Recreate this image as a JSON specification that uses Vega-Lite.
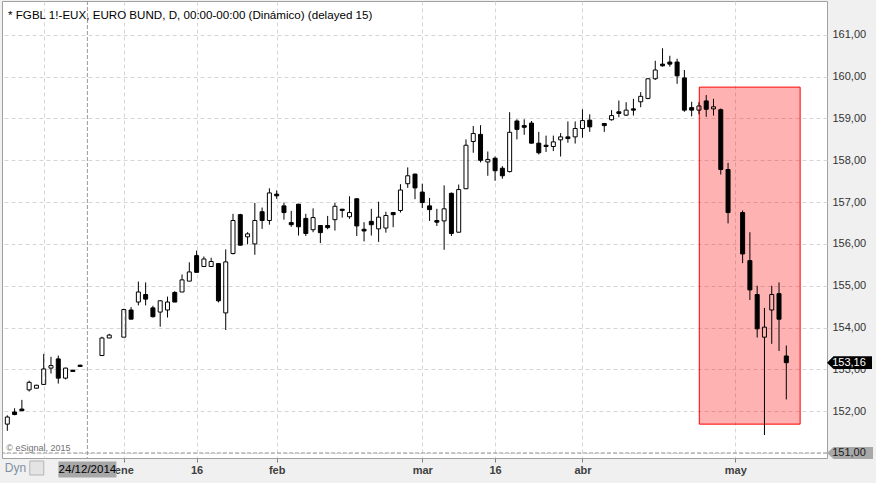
{
  "$schema": "https://vega.github.io/schema/vega-lite/v6.json",
  "width": 825,
  "height": 457,
  "autosize": "none",
  "padding": {"left": 2, "top": 1, "right": 49, "bottom": 25},
  "background": "#f0f0f0",
  "datasets": {
    "candles": [
      {"idx": 0, "open": 151.69, "high": 151.90, "low": 151.53, "close": 151.86},
      {"idx": 1, "open": 151.98, "high": 152.07, "low": 151.90, "close": 151.92},
      {"idx": 2, "open": 152.05, "high": 152.27, "low": 152.01, "close": 152.01},
      {"idx": 3, "open": 152.51, "high": 152.73, "low": 152.47, "close": 152.69},
      {"idx": 4, "open": 152.55, "high": 152.63, "low": 152.54, "close": 152.62},
      {"idx": 5, "open": 152.64, "high": 153.37, "low": 152.63, "close": 153.01},
      {"idx": 6, "open": 153.03, "high": 153.30, "low": 152.90, "close": 153.09},
      {"idx": 7, "open": 153.25, "high": 153.33, "low": 152.66, "close": 152.79},
      {"idx": 8, "open": 152.79, "high": 153.04, "low": 152.76, "close": 153.03},
      {"idx": 9, "open": 152.98, "high": 152.99, "low": 152.94, "close": 152.95},
      {"idx": 10, "open": 153.10, "high": 153.11, "low": 153.06, "close": 153.07},
      {"idx": 13, "open": 153.33, "high": 153.78, "low": 153.33, "close": 153.75},
      {"idx": 14, "open": 153.75, "high": 153.85, "low": 153.75, "close": 153.82},
      {"idx": 16, "open": 153.77, "high": 154.45, "low": 153.77, "close": 154.43},
      {"idx": 17, "open": 154.42, "high": 154.49, "low": 154.20, "close": 154.20},
      {"idx": 18, "open": 154.61, "high": 155.10, "low": 154.53, "close": 154.85},
      {"idx": 19, "open": 154.79, "high": 155.08, "low": 154.53, "close": 154.68},
      {"idx": 20, "open": 154.47, "high": 154.52, "low": 154.24, "close": 154.26},
      {"idx": 21, "open": 154.37, "high": 154.65, "low": 154.02, "close": 154.64},
      {"idx": 22, "open": 154.42, "high": 154.74, "low": 154.24, "close": 154.61},
      {"idx": 23, "open": 154.84, "high": 154.87, "low": 154.61, "close": 154.61},
      {"idx": 24, "open": 154.85, "high": 155.27, "low": 154.85, "close": 155.14},
      {"idx": 25, "open": 155.11, "high": 155.56, "low": 155.11, "close": 155.33},
      {"idx": 26, "open": 155.72, "high": 155.84, "low": 155.32, "close": 155.32},
      {"idx": 27, "open": 155.46, "high": 155.70, "low": 155.46, "close": 155.64},
      {"idx": 28, "open": 155.46, "high": 155.67, "low": 155.46, "close": 155.58},
      {"idx": 29, "open": 155.53, "high": 155.54, "low": 154.60, "close": 154.64},
      {"idx": 30, "open": 154.35, "high": 155.87, "low": 153.94, "close": 155.57},
      {"idx": 31, "open": 155.77, "high": 156.72, "low": 155.75, "close": 156.56},
      {"idx": 32, "open": 156.70, "high": 156.72, "low": 155.96, "close": 155.97},
      {"idx": 33, "open": 156.17, "high": 156.28, "low": 155.99, "close": 156.24},
      {"idx": 34, "open": 156.00, "high": 156.98, "low": 155.74, "close": 156.56},
      {"idx": 35, "open": 156.77, "high": 156.87, "low": 156.36, "close": 156.56},
      {"idx": 36, "open": 156.56, "high": 157.33, "low": 156.46, "close": 157.22},
      {"idx": 37, "open": 157.19, "high": 157.28, "low": 157.08, "close": 157.15},
      {"idx": 38, "open": 156.91, "high": 156.99, "low": 156.58, "close": 156.75},
      {"idx": 39, "open": 156.51, "high": 156.79, "low": 156.41, "close": 156.46},
      {"idx": 40, "open": 156.95, "high": 156.96, "low": 156.20, "close": 156.41},
      {"idx": 41, "open": 156.61, "high": 156.72, "low": 156.19, "close": 156.25},
      {"idx": 42, "open": 156.34, "high": 156.85, "low": 156.28, "close": 156.63},
      {"idx": 43, "open": 156.44, "high": 156.45, "low": 156.02, "close": 156.27},
      {"idx": 44, "open": 156.44, "high": 156.67, "low": 156.35, "close": 156.39},
      {"idx": 45, "open": 156.58, "high": 156.98, "low": 156.32, "close": 156.90},
      {"idx": 46, "open": 156.83, "high": 156.84, "low": 156.63, "close": 156.80},
      {"idx": 47, "open": 156.65, "high": 157.14, "low": 156.60, "close": 156.75},
      {"idx": 48, "open": 157.08, "high": 157.09, "low": 156.19, "close": 156.43},
      {"idx": 49, "open": 156.35, "high": 156.52, "low": 156.06, "close": 156.31},
      {"idx": 50, "open": 156.54, "high": 156.84, "low": 156.20, "close": 156.46},
      {"idx": 51, "open": 156.36, "high": 157.01, "low": 156.05, "close": 156.64},
      {"idx": 52, "open": 156.38, "high": 156.77, "low": 156.27, "close": 156.68},
      {"idx": 53, "open": 156.75, "high": 156.76, "low": 156.40, "close": 156.70},
      {"idx": 54, "open": 156.80, "high": 157.43, "low": 156.75, "close": 157.29},
      {"idx": 55, "open": 157.44, "high": 157.83, "low": 157.34, "close": 157.63},
      {"idx": 56, "open": 157.67, "high": 157.68, "low": 157.07, "close": 157.34},
      {"idx": 57, "open": 157.24, "high": 157.44, "low": 156.86, "close": 156.99},
      {"idx": 58, "open": 156.91, "high": 157.10, "low": 156.55, "close": 156.82},
      {"idx": 59, "open": 156.56, "high": 156.84, "low": 156.43, "close": 156.52},
      {"idx": 60, "open": 156.55, "high": 157.40, "low": 155.86, "close": 156.84},
      {"idx": 61, "open": 157.21, "high": 157.23, "low": 156.19, "close": 156.25},
      {"idx": 62, "open": 156.28, "high": 157.42, "low": 156.27, "close": 157.30},
      {"idx": 63, "open": 157.32, "high": 158.50, "low": 157.31, "close": 158.36},
      {"idx": 64, "open": 158.45, "high": 158.82, "low": 158.18, "close": 158.64},
      {"idx": 65, "open": 158.62, "high": 158.84, "low": 157.95, "close": 158.00},
      {"idx": 66, "open": 157.96, "high": 158.21, "low": 157.63, "close": 158.02},
      {"idx": 67, "open": 158.05, "high": 158.09, "low": 157.51, "close": 157.75},
      {"idx": 68, "open": 157.81, "high": 157.86, "low": 157.56, "close": 157.63},
      {"idx": 69, "open": 157.73, "high": 159.15, "low": 157.71, "close": 158.67},
      {"idx": 70, "open": 158.94, "high": 158.98, "low": 158.50, "close": 158.74},
      {"idx": 71, "open": 158.83, "high": 158.98, "low": 158.61, "close": 158.79},
      {"idx": 72, "open": 158.89, "high": 158.94, "low": 158.40, "close": 158.41},
      {"idx": 73, "open": 158.41, "high": 158.68, "low": 158.14, "close": 158.18},
      {"idx": 74, "open": 158.36, "high": 158.59, "low": 158.20, "close": 158.33},
      {"idx": 75, "open": 158.33, "high": 158.59, "low": 158.22, "close": 158.44},
      {"idx": 76, "open": 158.49, "high": 158.65, "low": 158.09, "close": 158.56},
      {"idx": 77, "open": 158.56, "high": 158.93, "low": 158.42, "close": 158.52},
      {"idx": 78, "open": 158.56, "high": 158.93, "low": 158.40, "close": 158.76},
      {"idx": 79, "open": 158.76, "high": 159.22, "low": 158.54, "close": 158.95},
      {"idx": 80, "open": 158.96, "high": 159.10, "low": 158.68, "close": 158.80},
      {"idx": 82, "open": 158.88, "high": 158.89, "low": 158.68, "close": 158.83},
      {"idx": 83, "open": 158.97, "high": 159.20, "low": 158.95, "close": 159.07},
      {"idx": 84, "open": 159.16, "high": 159.43, "low": 159.03, "close": 159.12},
      {"idx": 85, "open": 159.08, "high": 159.39, "low": 159.06, "close": 159.20},
      {"idx": 86, "open": 159.23, "high": 159.47, "low": 159.07, "close": 159.20},
      {"idx": 87, "open": 159.40, "high": 159.63, "low": 159.27, "close": 159.53},
      {"idx": 88, "open": 159.48, "high": 159.96, "low": 159.46, "close": 159.95},
      {"idx": 89, "open": 159.95, "high": 160.38, "low": 159.92, "close": 160.16},
      {"idx": 90, "open": 160.30, "high": 160.68, "low": 160.24, "close": 160.26},
      {"idx": 91, "open": 160.35, "high": 160.50, "low": 160.24, "close": 160.30},
      {"idx": 92, "open": 160.35, "high": 160.43, "low": 159.83, "close": 160.02},
      {"idx": 93, "open": 159.97, "high": 160.16, "low": 159.16, "close": 159.20},
      {"idx": 94, "open": 159.26, "high": 159.40, "low": 159.05, "close": 159.20},
      {"idx": 95, "open": 159.20, "high": 159.39, "low": 159.10, "close": 159.30},
      {"idx": 96, "open": 159.42, "high": 159.56, "low": 159.04, "close": 159.22},
      {"idx": 97, "open": 159.23, "high": 159.47, "low": 159.07, "close": 159.28},
      {"idx": 98, "open": 159.21, "high": 159.24, "low": 157.66, "close": 157.78},
      {"idx": 99, "open": 157.78, "high": 157.94, "low": 156.49, "close": 156.75},
      {"idx": 101, "open": 156.75, "high": 156.80, "low": 155.54, "close": 155.76},
      {"idx": 102, "open": 155.60, "high": 156.28, "low": 154.66, "close": 154.90},
      {"idx": 103, "open": 154.79, "high": 155.00, "low": 153.76, "close": 153.97},
      {"idx": 104, "open": 153.77, "high": 154.47, "low": 151.43, "close": 154.01},
      {"idx": 105, "open": 154.42, "high": 155.00, "low": 153.61, "close": 154.79},
      {"idx": 106, "open": 154.81, "high": 155.08, "low": 153.44, "close": 154.20},
      {"idx": 107, "open": 153.32, "high": 153.57, "low": 152.28, "close": 153.16}
    ],
    "zone": [{"from": 95.05, "to": 108.9, "top": 159.75, "bottom": 151.69}],
    "cursor": [{"idx": 11, "price": 151.0, "date": "24/12/2014"}],
    "last": [{"price": 153.16}]
  },
  "layer": [
    {
      "data": {"name": "zone"},
      "mark": {"type": "rect", "fill": "#ff0000", "fillOpacity": 0.3, "stroke": "#ff0000", "strokeWidth": 1},
      "encoding": {
        "x": {
          "field": "from",
          "type": "quantitative",
          "scale": {"domain": [-0.73, 112.59], "nice": false, "zero": false, "padding": 0},
          "title": null,
          "axis": {
            "values": [5, 16, 26, 37, 57, 67, 79, 100],
            "labelExpr": "datum.value == 16 ? 'ene' : datum.value == 26 ? '16' : datum.value == 37 ? 'feb' : datum.value == 57 ? 'mar' : datum.value == 67 ? '16' : datum.value == 79 ? 'abr' : datum.value == 100 ? 'may' : ''",
            "domain": false,
            "tickSize": 4,
            "tickColor": {"condition": {"test": "datum.value == 5", "value": "transparent"}, "value": "#808080"},
            "labelPadding": 2,
            "labelFontSize": 11,
            "labelFontWeight": "bold",
            "labelColor": "#404040",
            "labelOverlap": false,
            "labelFlush": false,
            "grid": true,
            "gridColor": "#d6d6d6",
            "gridDash": [4, 3]
          }
        },
        "x2": {"field": "to"},
        "y": {
          "field": "top",
          "type": "quantitative",
          "scale": {"domain": [150.88, 161.81], "nice": false, "zero": false, "padding": 0},
          "title": null,
          "axis": {
            "orient": "right",
            "values": [151, 152, 153, 154, 155, 156, 157, 158, 159, 160, 161],
            "format": ".2f",
            "domain": false,
            "ticks": false,
            "labelPadding": 5,
            "labelFontSize": 11,
            "labelColor": "#333333",
            "labelAlign": "left",
            "labelBaseline": "middle",
            "grid": true,
            "gridColor": "#d6d6d6",
            "gridDash": [4, 3]
          }
        },
        "y2": {"field": "bottom"}
      }
    },
    {
      "data": {"name": "cursor"},
      "mark": {"type": "rule", "color": "#9a9a9a", "strokeDash": [4, 2], "strokeWidth": 1},
      "encoding": {"x": {"field": "idx", "type": "quantitative", "title": null}}
    },
    {
      "data": {"name": "cursor"},
      "mark": {"type": "rule", "color": "#9a9a9a", "strokeDash": [4, 2], "strokeWidth": 1},
      "encoding": {"y": {"field": "price", "type": "quantitative", "title": null}}
    },
    {
      "data": {"name": "candles"},
      "transform": [{"filter": "datum.close < datum.open"}],
      "mark": {"type": "rule", "color": "#000000", "strokeWidth": 1},
      "encoding": {
        "x": {"field": "idx", "type": "quantitative", "title": null},
        "y": {"field": "high", "type": "quantitative", "title": null},
        "y2": {"field": "low"}
      }
    },
    {
      "data": {"name": "candles"},
      "transform": [{"filter": "datum.close >= datum.open"}],
      "mark": {"type": "rule", "color": "#000000", "strokeWidth": 1},
      "encoding": {
        "x": {"field": "idx", "type": "quantitative", "title": null},
        "y": {"field": "high", "type": "quantitative", "title": null},
        "y2": {"field": "close"}
      }
    },
    {
      "data": {"name": "candles"},
      "transform": [{"filter": "datum.close >= datum.open"}],
      "mark": {"type": "rule", "color": "#000000", "strokeWidth": 1},
      "encoding": {
        "x": {"field": "idx", "type": "quantitative", "title": null},
        "y": {"field": "open", "type": "quantitative", "title": null},
        "y2": {"field": "low"}
      }
    },
    {
      "data": {"name": "candles"},
      "mark": {"type": "bar", "width": 4, "stroke": "#000000", "strokeWidth": 1},
      "encoding": {
        "x": {"field": "idx", "type": "quantitative", "title": null},
        "y": {"field": "open", "type": "quantitative", "title": null},
        "y2": {"field": "close"},
        "fill": {
          "condition": {"test": "datum.close < datum.open", "value": "#000000"},
          "value": "transparent"
        }
      }
    },
    {
      "data": {"values": [{"header": "* FGBL 1!-EUX, EURO BUND, D, 00:00-00:00 (Dinámico) (delayed 15)"}]},
      "mark": {"type": "text", "align": "left", "baseline": "alphabetic", "fontSize": 11.6, "color": "#000000"},
      "encoding": {
        "text": {"field": "header"},
        "x": {"datum": 0.1, "type": "quantitative", "title": null},
        "y": {"datum": 161.38, "type": "quantitative", "title": null}
      }
    },
    {
      "data": {"values": [{"note": "© eSignal, 2015"}]},
      "mark": {"type": "text", "align": "left", "baseline": "alphabetic", "dx": -1, "dy": -1.5, "fontSize": 9, "color": "#707070"},
      "encoding": {
        "text": {"field": "note"},
        "x": {"datum": 0, "type": "quantitative", "title": null},
        "y": {"datum": 151, "type": "quantitative", "title": null}
      }
    },
    {
      "data": {"name": "last"},
      "mark": {"type": "point", "shape": "M0,0L0.65,-0.63L4.5,-0.63L4.5,0.63L0.65,0.63Z", "filled": true, "size": 400, "color": "#000000", "opacity": 1},
      "encoding": {
        "x": {"value": "width"},
        "y": {"field": "price", "type": "quantitative", "title": null}
      }
    },
    {
      "data": {"name": "last"},
      "mark": {"type": "text", "align": "center", "baseline": "middle", "dx": 22, "fontSize": 11, "color": "#ffffff"},
      "encoding": {
        "x": {"value": "width"},
        "y": {"field": "price", "type": "quantitative", "title": null},
        "text": {"field": "price", "type": "quantitative", "format": ".2f"}
      }
    },
    {
      "data": {"name": "cursor"},
      "mark": {"type": "point", "shape": "M0,0L0.65,-0.6L4.6,-0.6L4.6,0.6L0.65,0.6Z", "filled": true, "size": 400, "color": "#a8a8a8", "opacity": 1},
      "encoding": {
        "x": {"value": "width"},
        "y": {"field": "price", "type": "quantitative", "title": null}
      }
    },
    {
      "data": {"name": "cursor"},
      "mark": {"type": "text", "align": "center", "baseline": "middle", "dx": 22, "fontSize": 11, "color": "#1a1a1a"},
      "encoding": {
        "x": {"value": "width"},
        "y": {"field": "price", "type": "quantitative", "title": null},
        "text": {"field": "price", "type": "quantitative", "format": ".2f"}
      }
    },
    {
      "data": {"name": "cursor"},
      "mark": {"type": "point", "shape": "M-2.9,-0.8L2.9,-0.8L2.9,0.8L-2.9,0.8Z", "filled": true, "size": 400, "color": "#a8a8a8", "opacity": 1, "yOffset": 11.5},
      "encoding": {
        "x": {"field": "idx", "type": "quantitative", "title": null},
        "y": {"value": "height"}
      }
    },
    {
      "data": {"name": "cursor"},
      "mark": {"type": "text", "align": "center", "baseline": "middle", "yOffset": 11.5, "fontSize": 11.5, "color": "#000000"},
      "encoding": {
        "x": {"field": "idx", "type": "quantitative", "title": null},
        "y": {"value": "height"},
        "text": {"field": "date"}
      }
    },
    {
      "data": {"values": [{"label": "Dyn"}]},
      "mark": {"type": "text", "align": "left", "baseline": "middle", "yOffset": 10, "fontSize": 12, "color": "#8090a0"},
      "encoding": {
        "x": {"datum": -0.35, "type": "quantitative", "title": null},
        "y": {"value": "height"},
        "text": {"field": "label"}
      }
    },
    {
      "data": {"values": [{"label": "lock"}]},
      "mark": {"type": "point", "shape": "square", "filled": true, "size": 196, "fill": "#e4e4e4", "stroke": "#b4b4b4", "strokeWidth": 1, "opacity": 1, "yOffset": 10},
      "encoding": {
        "x": {"datum": 4.05, "type": "quantitative", "title": null},
        "y": {"value": "height"}
      }
    }
  ],
  "config": {
    "font": "Liberation Sans",
    "view": {"fill": "#ffffff", "stroke": "#a0a0a0", "strokeWidth": 1},
    "locale": {
      "number": {"decimal": ",", "thousands": ".", "grouping": [3], "currency": ["", " €"]}
    }
  }
}
